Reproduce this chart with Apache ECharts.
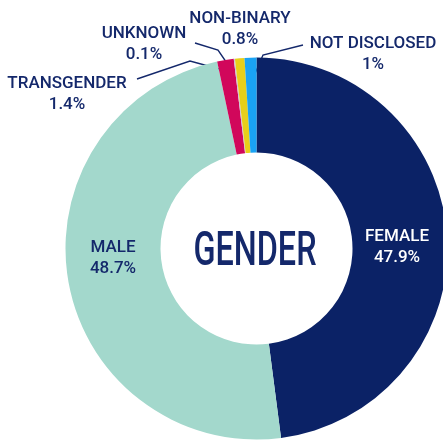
<!DOCTYPE html>
<html>
<head>
<meta charset="utf-8">
<script src="https://cdn.jsdelivr.net/npm/echarts@6/dist/echarts.min.js"></script>
<style>
  html, body { margin: 0; padding: 0; background: #fff; }
  #chart { width: 443px; height: 441px; }
</style>
</head>
<body>
<div id="chart"></div>
<script>
// gender split, clockwise from 12 o'clock
var categories = ['FEMALE', 'MALE', 'TRANSGENDER', 'UNKNOWN', 'NON-BINARY', 'NOT DISCLOSED'];
var values = [47.9, 48.7, 1.4, 0.1, 0.8, 1];
var colors = ['#0b2266', '#a3d8cc', '#d1075b', '#c9c3d6', '#e8cf1a', '#1aa3f4'];

var NAVY = '#14286b';
var FONT = "Roboto, 'Liberation Sans', sans-serif";

// where each label sits, and its leader line (sector end first)
var labelPos = [
  [397, 247], [113, 258], [67, 94], [144, 44], [240, 29], [373, 54]
];
var leaders = [
  null, null,
  [[223, 70], [190, 61], [137, 79]],
  [[233, 72], [218, 50], [195, 43]],
  [[241, 70], [240.5, 65], [240, 61]],
  [[254, 76], [263, 55], [303, 45]]
];

var chart = echarts.init(document.getElementById('chart'), null, { renderer: 'canvas' });

var data = categories.map(function (name, i) {
  return {
    name: name,
    value: values[i],
    itemStyle: { color: colors[i] },
    label: { color: i === 0 ? '#ffffff' : NAVY },
    labelLine: { show: !!leaders[i] }
  };
});

var option = {
  animation: false,
  graphic: [{
    type: 'text',
    x: 255,
    y: 253,
    scaleX: 0.66,
    z: 100,
    style: {
      text: 'GENDER',
      x: 0,
      y: 0,
      align: 'center',
      verticalAlign: 'middle',
      fill: NAVY,
      fontFamily: FONT,
      fontWeight: 500,
      fontSize: 49
    }
  }],
  series: [{
    type: 'pie',
    center: [256.5, 248.5],
    radius: [96, 191],
    startAngle: 90,
    clockwise: true,
    avoidLabelOverlap: false,
    data: data,
    label: {
      show: true,
      formatter: function (p) { return p.name + '\n' + p.value + '%'; },
      fontFamily: FONT,
      fontWeight: 500,
      fontSize: 17,
      lineHeight: 21,
      align: 'center'
    },
    labelLine: {
      show: true,
      showAbove: true,
      lineStyle: { color: NAVY, width: 1.4 }
    },
    labelLayout: function (p) {
      var i = p.dataIndex;
      var out = {
        x: labelPos[i][0],
        y: labelPos[i][1],
        align: 'center',
        verticalAlign: 'middle'
      };
      if (leaders[i]) out.labelLinePoints = leaders[i];
      return out;
    }
  }]
};

chart.setOption(option);
</script>
</body>
</html>
